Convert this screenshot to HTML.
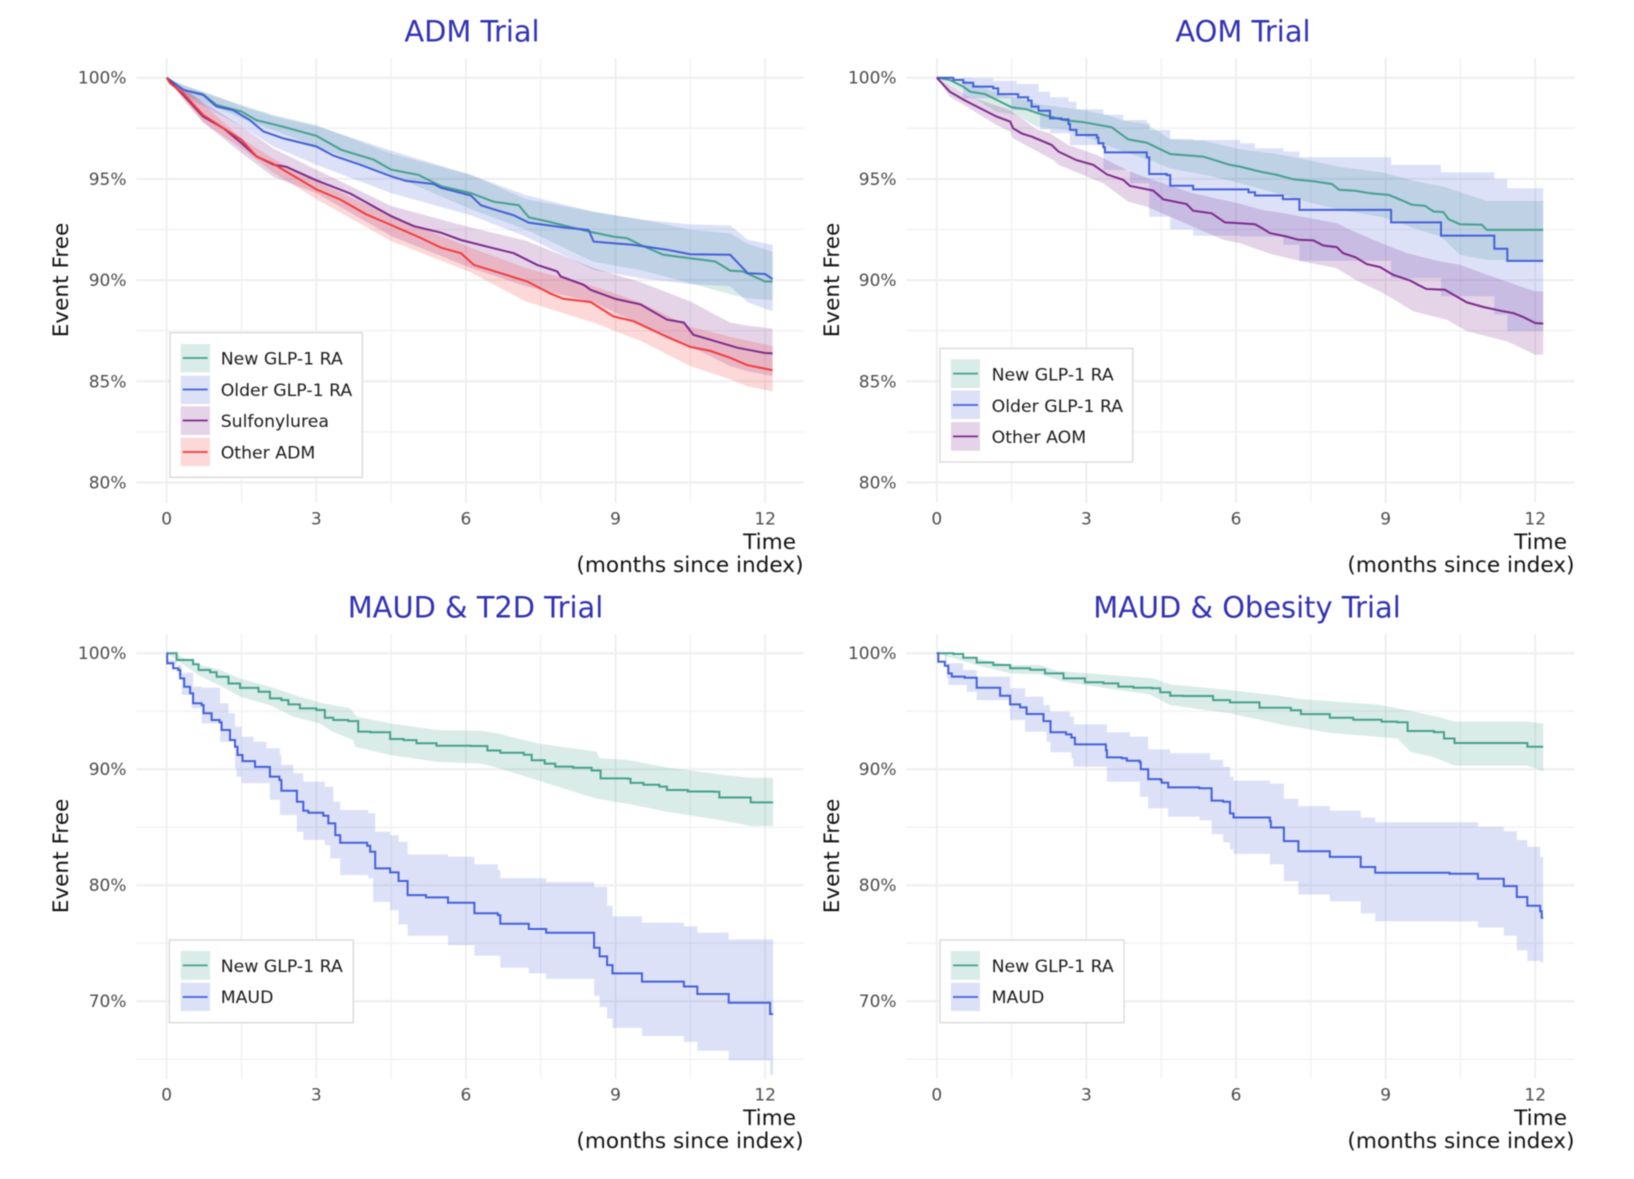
<!DOCTYPE html>
<html lang="en">
<head>
<meta charset="utf-8">
<title>Kaplan-Meier event-free survival by trial</title>
<style>
html,body{margin:0;padding:0;background:#fff;}
svg{display:block;filter:blur(0.6px);font-family:"DejaVu Sans","Liberation Sans",sans-serif;}
.title{font-size:28.9px;fill:#3232b4;text-anchor:middle;}
.axt{font-size:21.6px;fill:#111;}
.leg{font-size:17.3px;fill:#1c1c1c;dominant-baseline:central;transform:translate(-1px,1.8px);}
.lb{fill:#fff;stroke:#dcdcdc;stroke-width:1.5;}
.tick{font-size:17px;fill:#4d4d4d;dominant-baseline:central;}
</style>
</head>
<body>
<svg id="chart" xmlns="http://www.w3.org/2000/svg" width="1634" height="1179" viewBox="0 0 1634 1179">
<rect width="1634" height="1179" fill="#fff"/>
<g id="layer-adm"></g>
<g id="layer-aom"></g>
<g id="layer-t2d"></g>
<g id="layer-obesity"></g>

<text class="title" x="472" y="41.5">ADM Trial</text>
<text class="title" x="1243" y="41.5">AOM Trial</text>
<text class="title" x="475.5" y="617.5">MAUD &amp; T2D Trial</text>
<text class="title" x="1247" y="617.5">MAUD &amp; Obesity Trial</text>

<text class="axt" transform="translate(68,280) rotate(-90)" text-anchor="middle">Event Free</text>
<text class="axt" transform="translate(839,280) rotate(-90)" text-anchor="middle">Event Free</text>
<text class="axt" transform="translate(68,856) rotate(-90)" text-anchor="middle">Event Free</text>
<text class="axt" transform="translate(839,856) rotate(-90)" text-anchor="middle">Event Free</text>

<g class="axt" text-anchor="end">
<text x="796" y="549">Time</text><text x="803.5" y="572">(months since index)</text>
</g>
<g class="axt" text-anchor="end">
<text x="1567" y="549">Time</text><text x="1574.5" y="572">(months since index)</text>
</g>
<g class="axt" text-anchor="end">
<text x="796" y="1125">Time</text><text x="803.5" y="1148">(months since index)</text>
</g>
<g class="axt" text-anchor="end">
<text x="1567" y="1125">Time</text><text x="1574.5" y="1148">(months since index)</text>
</g>

<g>
<rect class="lb" x="170" y="332.7" width="192.3" height="144.6"/>
<g><rect x="180.7" y="344" width="29.3" height="28.3" fill="#45a08d" fill-opacity=".2"/><line x1="182.7" x2="207.7" y1="358" y2="358" stroke="#45a08d" stroke-width="1.8"/><text class="leg" x="221.7" y="357.5">New GLP-1 RA</text></g>
<g><rect x="180.7" y="375.7" width="29.3" height="28.3" fill="#4360d8" fill-opacity=".19"/><line x1="182.7" x2="207.7" y1="389.5" y2="389.5" stroke="#4360d8" stroke-width="1.8"/><text class="leg" x="221.7" y="389">Older GLP-1 RA</text></g>
<g><rect x="180.7" y="406.3" width="29.3" height="28.7" fill="#7d2a8c" fill-opacity=".2"/><line x1="182.7" x2="207.7" y1="420.5" y2="420.5" stroke="#7d2a8c" stroke-width="1.8"/><text class="leg" x="221.7" y="420">Sulfonylurea</text></g>
<g><rect x="180.7" y="437.7" width="29.3" height="28.3" fill="#f43c3c" fill-opacity=".2"/><line x1="182.7" x2="207.7" y1="452" y2="452" stroke="#f43c3c" stroke-width="1.8"/><text class="leg" x="221.7" y="451.5">Other ADM</text></g>
</g>

<g>
<rect class="lb" x="940" y="348.4" width="192.8" height="113.6"/>
<g><rect x="950.9" y="359.3" width="29.1" height="28.7" fill="#45a08d" fill-opacity=".2"/><line x1="953" x2="978" y1="373.6" y2="373.6" stroke="#45a08d" stroke-width="1.8"/><text class="leg" x="992.6" y="373.6">New GLP-1 RA</text></g>
<g><rect x="950.9" y="390.5" width="29.1" height="28.5" fill="#4360d8" fill-opacity=".19"/><line x1="953" x2="978" y1="405" y2="405" stroke="#4360d8" stroke-width="1.8"/><text class="leg" x="992.6" y="405">Older GLP-1 RA</text></g>
<g><rect x="950.9" y="422" width="29.1" height="28.7" fill="#7d2a8c" fill-opacity=".2"/><line x1="953" x2="978" y1="436.4" y2="436.4" stroke="#7d2a8c" stroke-width="1.8"/><text class="leg" x="992.6" y="436.4">Other AOM</text></g>
</g>

<g>
<rect class="lb" x="169.4" y="940" width="183.9" height="82.7"/>
<g><rect x="180.7" y="951" width="29.3" height="28.8" fill="#45a08d" fill-opacity=".2"/><line x1="182.7" x2="207.7" y1="965.4" y2="965.4" stroke="#45a08d" stroke-width="1.8"/><text class="leg" x="221.7" y="965">New GLP-1 RA</text></g>
<g><rect x="180.7" y="982.8" width="29.3" height="28.2" fill="#4360d8" fill-opacity=".19"/><line x1="182.7" x2="207.7" y1="997" y2="997" stroke="#4360d8" stroke-width="1.8"/><text class="leg" x="221.7" y="996">MAUD</text></g>
</g>

<g>
<rect class="lb" x="940" y="940" width="184" height="82.7"/>
<g><rect x="950.9" y="951" width="29.1" height="28.8" fill="#45a08d" fill-opacity=".2"/><line x1="953" x2="978" y1="965.4" y2="965.4" stroke="#45a08d" stroke-width="1.8"/><text class="leg" x="992.6" y="965">New GLP-1 RA</text></g>
<g><rect x="950.9" y="982.8" width="29.1" height="28.2" fill="#4360d8" fill-opacity=".19"/><line x1="953" x2="978" y1="997" y2="997" stroke="#4360d8" stroke-width="1.8"/><text class="leg" x="992.6" y="996">MAUD</text></g>
</g>
</svg>

<script>
// ---------- tick values ----------
const xMajorTicks = [0, 3, 6, 9, 12];
const xMinorTicks = [1.5, 4.5, 7.5, 10.5];
const topYMajorTicks = [100, 95, 90, 85, 80];
const topYMinorTicks = [97.5, 92.5, 87.5, 82.5];
const bottomYMajorTicks = [100, 90, 80, 70];
const bottomYMinorTicks = [95, 85, 75, 65];

// ---------- ADM trial ----------
const admNewTimes = [0,.33,.73,1,1.5,1.8,2.3,3,3.5,4.15,4.5,5.05,5.5,6.1,6.56,7.06,7.26,7.63,8.46,8.96,9.23,9.5,9.96,10.5,11,11.3,11.55,12,12.15];
const admNewSurvival = [100,99.4,99.18,98.65,98.33,97.9,97.6,97.13,96.44,95.95,95.46,95.2,94.64,94.3,93.87,93.7,93.1,92.9,92.4,92.15,92.07,91.74,91.25,91.08,90.92,90.47,90.43,89.93,89.93];
const admOlderTimes = [0,.33,.73,1,1.33,1.67,1.94,2.34,3,3.34,3.88,4.5,4.8,5.35,5.5,6.1,6.3,6.56,6.96,7.26,7.96,8.46,8.56,8.96,9.36,10.03,10.5,11.3,11.65,12,12.15];
const admOlderSurvival = [100,99.4,99.15,98.57,98.4,97.9,97.34,97,96.6,96.15,95.7,95.13,94.9,94.75,94.56,94.18,93.7,93.5,93.2,92.84,92.6,92.48,91.9,91.82,91.74,91.5,91.28,91.25,90.34,90.3,90.05];
const admSulfTimes = [0,.07,.33,.73,1.14,1.5,1.8,2.14,2.4,3,3.68,4.5,4.95,5.5,5.9,6.56,6.96,7.43,7.83,7.9,8.36,8.5,9,9.5,10.03,10.37,10.56,11,11.44,12,12.15];
const admSulfSurvival = [100,99.8,99.15,98.08,97.5,96.77,96.11,95.7,95.6,94.93,94.28,93.16,92.67,92.34,91.98,91.57,91.33,90.75,90.43,90.18,89.77,89.52,89.07,88.8,88.05,87.9,87.3,86.98,86.66,86.4,86.38];
const admOtherTimes = [0,.07,.33,.73,1.14,1.5,1.8,2.14,3,3.48,4,4.5,5.08,5.5,5.9,6.16,6.7,7.23,7.7,7.96,8.5,8.96,9.36,10.03,10.5,10.9,11.3,11.64,12.15];
const admOtherSurvival = [100,99.72,99.23,98.16,97.5,96.93,96.11,95.74,94.48,93.98,93.25,92.72,92.1,91.6,91.33,90.75,90.34,89.93,89.33,89.07,88.92,88.2,87.97,87.2,86.7,86.5,86.16,85.8,85.55];
const admCiTimes = [0,.33,.73,1.5,2.14,3,4.5,6.1,7.2,8.56,9.5,10.5,11.3,11.65,12.15];
const admNewUpper = [100,99.64,99.3,98.66,98.16,97.67,96.25,95.2,94,93.38,93,92.5,92.3,91.8,91.4];
const admNewLower = [100,99.15,98.8,98,97.4,96.6,95.2,93.5,92.5,90.9,90.5,89.85,89.3,89.1,89];
const admOlderUpper = [100,99.64,99.3,98.6,98.1,97.6,96.4,95.2,94.2,93.38,93,92.75,92.7,92,91.74];
const admOlderLower = [100,99.1,98.6,97.6,96.6,95.7,94.3,93.2,92.15,90.5,90.1,89.8,89.7,88.9,88.46];
const admSulfUpper = [100,99.5,98.8,97.6,96.5,95.46,93.66,92.6,91.95,90.6,89.9,88.95,87.9,87.75,87.6];
const admSulfLower = [100,99,97.8,96.28,95.1,94.3,92.18,90.6,89.7,88.9,87.8,86.74,85.75,85.5,85.26];
const admOtherUpper = [100,99.5,98.7,97,96,94.88,93.16,91.6,90.6,89.7,88.9,87.7,87.2,87,86.74];
const admOtherLower = [100,98.9,97.8,96.5,95.3,94,91.93,90.38,88.95,87.9,87,85.75,85.1,84.75,84.5];

// ---------- AOM trial ----------
const aomNewTimes = [0,.26,.53,.67,.97,1.23,1.5,1.8,2.07,2.54,2.94,3.51,3.84,4.21,4.68,5.34,5.88,6.08,6.48,6.82,7.15,7.59,7.92,8.07,8.39,8.69,9.06,9.22,9.53,9.79,9.96,10.16,10.26,10.49,10.93,11.03,12.16];
const aomNewSurvival = [100,99.89,99.56,99.31,99.19,98.87,98.54,98.44,98.21,97.91,97.8,97.55,96.95,96.79,96.23,96.1,95.69,95.61,95.36,95.2,94.98,94.87,94.75,94.46,94.41,94.29,94.21,94.05,93.72,93.67,93.39,93.36,93.01,92.76,92.73,92.48,92.48];
const aomOlderTimes = [0,.33,.53,.73,1.13,1.23,1.63,1.83,1.9,2.04,2.27,2.5,2.64,2.67,2.8,3.21,3.24,3.34,3.37,4.21,4.26,4.61,4.68,5.14,6.25,6.38,6.94,7.27,9.11,10.11,11.18,11.44,12.16];
const aomOlderSurvival = [100,99.89,99.75,99.56,99.47,99.19,99.03,98.87,98.57,98.37,97.99,97.94,97.71,97.42,97.17,97.04,96.76,96.56,96.31,96.07,95.24,95.19,94.66,94.48,94.34,94.18,94,93.47,92.85,92.2,91.55,90.95,90.95];
const aomOtherTimes = [0,.26,.57,1.2,1.47,1.53,1.7,1.9,2.3,2.44,2.8,3.14,3.41,3.74,3.87,4.34,4.54,5.01,5.14,5.51,5.78,6.08,6.38,6.52,6.68,7.02,7.25,7.55,7.75,8.02,8.15,8.39,8.62,8.89,9.15,9.49,9.65,9.82,10.19,10.36,10.63,10.96,11.3,11.56,11.76,12,12.16];
const aomOtherSurvival = [100,99.31,98.87,98.08,97.83,97.5,97.25,97.09,96.68,96.35,95.93,95.69,95.22,94.95,94.66,94.42,93.99,93.76,93.43,93.3,92.85,92.81,92.76,92.57,92.32,92.15,91.99,91.96,91.71,91.63,91.33,91.13,90.79,90.64,90.26,89.98,89.77,89.56,89.52,89.28,88.9,88.67,88.49,88.37,88.17,87.88,87.85];
const aomNewUpperTimes = [0,.53,1.23,2.07,2.94,3.41,3.74,4.21,4.68,5.34,6.08,6.82,7.27,8.05,8.95,9.62,10.16,11.03,12.16];
const aomNewUpper = [100,99.89,99.23,98.68,98.4,98.16,97.87,97.71,96.95,96.89,96.46,96.23,96.02,95.61,95.31,94.87,94.62,93.91,93.91];
const aomNewLowerTimes = [0,.53,1.2,1.6,2,2.64,3.74,4.27,4.68,5.55,6.08,6.82,7.27,8.08,8.95,9.56,10.11,10.49,11.03,12.16];
const aomNewLower = [100,99.31,98.32,98.16,97.58,97.42,96.35,95.93,95.52,95.11,94.79,94.29,93.96,93.47,93.11,92.57,92.15,91.25,91,90.97];
const aomOlderUpperTimes = [0,.73,1.13,1.6,2.04,2.27,2.64,2.8,3.34,3.74,4.21,4.27,4.68,5.14,6.08,6.38,6.95,7.27,9.11,10.11,11.18,11.44,12.16];
const aomOlderUpper = [100,99.97,99.84,99.69,99.31,99.03,98.82,98.44,98.16,97.91,97.78,97.41,96.97,96.92,96.76,96.51,96.35,96.07,95.69,95.33,94.98,94.54,94.54];
const aomOlderLowerTimes = [0,.53,1.5,2.07,2.27,2.67,3.34,3.87,4.26,4.68,5.14,6.08,6.95,7.27,9.11,10.11,11.18,11.44,12.16];
const aomOlderLower = [100,98.98,98.4,97.45,97.25,96.67,95.44,94.78,93.13,92.5,92.19,92.15,91.74,90.95,90.1,89.2,88.3,87.47,87.47];
const aomOtherUpperTimes = [0,.26,.67,1.47,2,2.27,2.64,3.21,3.81,4.24,5.14,6.08,6.52,6.95,8.02,8.36,9,9.43,10.1,10.49,11.03,12,12.16];
const aomOtherUpper = [100,99.64,99.06,98.4,97.45,97.25,96.67,96.18,95.44,95.03,94.29,93.77,93.47,93.31,92.81,92.4,91.74,91.33,90.92,90.76,90.26,89.44,89.44];
const aomOtherLowerTimes = [0,.26,.6,1.2,1.47,1.53,2.34,2.44,3.34,3.84,4.21,4.68,5.75,6.08,6.68,7.27,8.02,8.39,8.95,9.56,10.23,10.63,11.43,12,12.16];
const aomOtherLower = [100,99.06,98.57,97.66,97.33,97,95.93,95.69,94.78,93.87,93.63,93.13,91.98,91.83,91.3,90.95,90.59,90.02,89.36,88.45,88.04,87.47,86.97,86.32,86.32];

// ---------- MAUD & T2D trial ----------
const t2dNewTimes = [0,.2,.53,.64,.87,1,1.24,1.47,1.84,2.07,2.3,2.44,2.67,3,3.17,3.34,3.64,3.84,4.08,4.48,4.75,5.01,5.41,6.11,6.43,6.69,7.16,7.32,7.58,7.79,8.15,8.52,8.7,9.25,9.3,9.56,9.88,10.03,10.45,10.97,11.08,11.71,12.16];
const t2dNewSurvival = [100,99.41,99.04,98.55,98.35,97.97,97.39,97.01,96.67,96.1,95.96,95.59,95.24,95.1,94.44,94.24,94.15,93.24,93.18,92.6,92.51,92.23,92.03,92,91.61,91.42,91.25,90.77,90.48,90.22,90.12,89.89,89.21,89.18,88.82,88.66,88.5,88.21,88.08,88.05,87.56,87.14,87.14];
const t2dNewUpperTimes = [0,.2,.64,1.07,1.47,2.07,2.67,3.14,3.68,3.81,4.48,5.41,6.32,6.59,7.42,8.62,8.68,9.25,10.03,11.08,11.71,12.16];
const t2dNewUpper = [100,99.85,99.04,98.55,97.83,97.11,96.25,95.67,95.25,94.53,93.95,93.38,93.3,93.13,92.23,91.51,90.96,90.8,90.15,89.57,89.25,89.25];
const t2dNewLowerTimes = [0,.64,1.24,1.47,2.07,2.54,3.07,3.34,3.74,3.78,4.48,5.41,6.32,6.69,7.53,8.62,9.3,10.03,11.08,11.71,12.16];
const t2dNewLower = [100,98.12,96.83,96.25,95.53,94.53,93.95,93.18,92.52,91.94,91.22,90.65,90.48,90.05,88.92,87.46,86.98,86.33,85.62,85.1,85.1];
const t2dMaudTimes = [0,.01,.13,.23,.27,.35,.47,.53,.7,.74,.9,1.06,1.1,1.27,1.37,1.42,1.52,1.77,2.07,2.26,2.3,2.61,2.74,2.84,3.14,3.24,3.38,3.48,4.02,4.08,4.18,4.48,4.65,4.83,5.2,5.64,6.17,6.64,6.69,7.26,7.61,8.57,8.68,8.83,8.94,9.53,10.37,10.64,11.27,12.1,12.16];
const t2dMaudSurvival = [100,99.13,98.7,98.55,97.83,97.1,96.54,95.68,95.53,94.82,94.24,94.04,93.38,92.52,91.94,91.22,90.7,90.2,89.36,89.07,88.15,87.2,86.42,86.25,85.99,85.33,84.32,83.66,83.4,82.89,81.45,81.1,80.36,79.15,78.95,78.49,77.58,77.42,76.68,76.22,75.9,74.6,73.86,73.11,72.4,71.69,71.27,70.62,69.87,68.9,68.9];
const t2dMaudUpperTimes = [0,.03,.2,.3,.53,.7,1.07,1.24,1.37,1.5,1.74,2,2.27,2.3,2.54,2.74,3.17,3.34,3.48,4.04,4.18,4.48,4.65,4.83,5.64,6.17,6.64,6.69,7.61,8.57,8.83,8.94,9.53,10.37,10.64,11.27,12.1,12.16];
const t2dMaudUpper = [100,99.4,99,98.3,97.12,97.03,95.68,94.82,93.67,92.8,92.37,91.8,91.23,90.37,89.64,88.93,88.5,87.2,86.48,86.2,84.6,84.3,83.73,82.65,82.45,81.8,81.31,80.6,80.27,79.85,78.23,77.32,76.77,76.45,75.9,75.32,75.32,74.67];
const t2dMaudLowerTimes = [0,.01,.23,.3,.5,.7,1.07,1.37,1.4,1.5,2.07,2.27,2.61,2.74,3.17,3.28,3.48,4.04,4.14,4.48,4.65,4.83,5.64,6.17,6.69,7.26,7.61,8.57,8.68,8.83,8.94,9.53,10.37,10.64,11.27,12.1,12.16];
const t2dMaudLower = [100,99,98.1,96.4,95.25,93.95,92.37,90.07,89.36,88.8,87.35,86.05,84.6,83.9,83.46,82.3,80.88,80.6,78.56,77.85,76.61,75.64,74.83,73.92,72.89,72.4,71.92,70.46,69.49,68.51,67.7,67,66.5,65.73,64.9,63.65,63.65];

// ---------- MAUD & Obesity trial ----------
const obNewTimes = [0,.33,.53,.8,1.13,1.47,1.87,2.17,2.54,2.97,3.34,3.64,3.94,4.31,4.48,4.68,4.94,5.54,5.88,6.47,7.1,7.3,7.88,8.35,8.92,9.23,9.44,9.97,10.17,10.38,11.84,12.16];
const obNewSurvival = [100,99.93,99.6,99.2,98.98,98.7,98.58,98.26,97.83,97.49,97.4,97.12,97.03,96.97,96.63,96.34,96.31,95.96,95.76,95.3,95.08,94.75,94.43,94.27,94.1,94.04,93.29,93.2,92.65,92.26,91.93,91.93];
const obNewUpperTimes = [0,.8,1.47,2.07,2.44,3.48,4.34,4.68,5.88,6.78,7.3,8.87,9.44,10.12,10.38,11.84,12.16];
const obNewUpper = [100,99.55,98.98,98.98,98.46,98.12,97.83,97.31,96.82,96.37,96.05,95.56,95.08,94.43,94.1,94.1,93.94];
const obNewLowerTimes = [0,.8,1.47,2.07,2.54,3.4,4.27,4.68,5.88,6.99,7.88,9.24,9.5,9.97,10.38,11.84,12.16];
const obNewLower = [100,98.98,98.26,98.18,97.55,96.97,96.45,95.53,94.81,93.78,93.13,92.65,91.51,91.03,90.31,90.31,89.83];
const obMaudTimes = [0,.03,.16,.23,.3,.56,.8,1.27,1.47,1.67,1.8,2.14,2.28,2.59,2.7,2.77,3.39,3.41,3.71,3.81,4.07,4.09,4.24,4.49,4.51,4.64,5.26,5.51,5.74,5.88,5.95,6.68,6.7,6.96,7.25,7.88,8.5,8.79,10.28,10.85,11.37,11.63,11.84,12.1,12.13,12.16];
const obMaudSurvival = [100,99.27,98.92,98.26,97.98,97.89,97.03,96.34,95.59,95.33,94.76,94.15,93.18,93,92.72,92.14,91.63,91.02,90.94,90.73,90.59,89.99,89.15,89.07,88.83,88.43,88.35,87.29,87.2,86.19,85.84,85.52,84.97,83.8,82.93,82.44,81.57,81.08,80.98,80.56,79.92,78.98,78.23,77.75,77.2,77.2];
const obMaudUpperTimes = [0,.16,.53,.8,1.47,1.77,2.14,2.27,2.67,2.75,3.41,3.87,4.24,4.68,5.48,5.74,5.88,5.95,6.68,6.96,7.25,7.88,8.5,8.79,10.85,11.37,11.63,11.84,12.1,12.16];
const obMaudUpper = [100,99.13,98.55,97.98,96.97,96.25,95.53,94.96,94.53,93.87,93.18,92.8,91.71,91.37,90.8,90.22,89.36,89.02,88.76,87.46,86.82,86.43,85.84,85.42,85.03,84.65,83.9,83.32,82.44,82.1];
const obMaudLowerTimes = [0,.2,.23,.6,.8,1.47,1.77,2.2,2.28,2.7,2.74,3.41,4.07,4.24,4.64,5.27,5.51,5.74,5.88,5.95,6.68,6.96,7.25,7.88,8.5,8.79,10.28,10.85,11.37,11.63,11.84,12.1,12.16];
const obMaudLower = [100,97.83,97.26,96.68,95.96,94.24,93.23,92.37,91.46,90.94,90.22,88.93,87.63,86.62,85.9,85.6,84.39,83.7,83.1,82.7,81.8,80.34,79.2,78.6,77.57,76.9,76.87,76.35,75.64,74.4,73.47,73.37,72.24];

// ---------- scales ----------
const NS = 'http://www.w3.org/2000/svg';
const monthPx = 49.87;
function xAxis(panel, month) { return panel.x0 + month * monthPx; }
function yAxis(panel, pct) { return panel.y100 + (100 - pct) * panel.pctPx; }

function tracePoints(panel, times, values, shape) {
  const pts = [];
  times.forEach(function (t, i) {
    const px = xAxis(panel, t);
    const py = yAxis(panel, values[i]);
    if (shape === 'step' && i > 0) pts.push([px, yAxis(panel, values[i - 1])]);
    pts.push([px, py]);
  });
  return pts;
}
function toPath(pts) {
  return pts.map(function (p, i) { return (i ? 'L' : 'M') + p[0].toFixed(1) + ' ' + p[1].toFixed(1); }).join('');
}
function drawRibbon(layer, panel, s) {
  const up = tracePoints(panel, s.upT, s.up, s.ciShape);
  const low = tracePoints(panel, s.lowT, s.low, s.ciShape).reverse();
  const el = document.createElementNS(NS, 'path');
  
  
  el.setAttribute('d', toPath(up.concat(low)) + 'Z');
  el.setAttribute('fill', s.color);
  el.setAttribute('fill-opacity', s.color === BLUE ? '0.19' : '0.2');
  layer.appendChild(el);
}
function drawLine(layer, panel, s) {
  const el = document.createElementNS(NS, 'path');
  
  
  el.setAttribute('d', toPath(tracePoints(panel, s.t, s.v, s.shape)));
  el.setAttribute('fill', 'none');
  el.setAttribute('stroke', s.color);
  el.setAttribute('stroke-width', '2');
  layer.appendChild(el);
}
function drawAxes(layer, panel) {
  panel.yMinor.forEach(function (v) {
    const el = document.createElementNS(NS, 'line');
    
    
    el.setAttribute('x1', panel.left); el.setAttribute('x2', panel.right);
    el.setAttribute('y1', yAxis(panel, v)); el.setAttribute('y2', yAxis(panel, v));
    el.setAttribute('stroke', '#f1f1f1'); el.setAttribute('stroke-width', '1.3');
    layer.appendChild(el);
  });
  xMinorTicks.forEach(function (v) {
    const el = document.createElementNS(NS, 'line');
    
    
    el.setAttribute('x1', xAxis(panel, v)); el.setAttribute('x2', xAxis(panel, v));
    el.setAttribute('y1', panel.top); el.setAttribute('y2', panel.bottom);
    el.setAttribute('stroke', '#f1f1f1'); el.setAttribute('stroke-width', '1.3');
    layer.appendChild(el);
  });
  panel.yMajor.forEach(function (v) {
    const el = document.createElementNS(NS, 'line');
    
    
    el.setAttribute('x1', panel.left); el.setAttribute('x2', panel.right);
    el.setAttribute('y1', yAxis(panel, v)); el.setAttribute('y2', yAxis(panel, v));
    el.setAttribute('stroke', '#eeeeee'); el.setAttribute('stroke-width', '2');
    layer.appendChild(el);
    const tx = document.createElementNS(NS, 'text');
    
    
    tx.setAttribute('class', 'tick');
    tx.setAttribute('text-anchor', 'end');
    tx.setAttribute('x', panel.left - 10);
    tx.setAttribute('y', yAxis(panel, v) + 1);
    tx.textContent = v + '%';
    layer.appendChild(tx);
  });
  xMajorTicks.forEach(function (v) {
    const el = document.createElementNS(NS, 'line');
    
    
    el.setAttribute('x1', xAxis(panel, v)); el.setAttribute('x2', xAxis(panel, v));
    el.setAttribute('y1', panel.top); el.setAttribute('y2', panel.bottom);
    el.setAttribute('stroke', '#eeeeee'); el.setAttribute('stroke-width', '1.8');
    layer.appendChild(el);
    const tx = document.createElementNS(NS, 'text');
    
    
    tx.setAttribute('class', 'tick');
    tx.setAttribute('text-anchor', 'middle');
    tx.setAttribute('x', xAxis(panel, v));
    tx.setAttribute('y', panel.bottom + 16.5);
    tx.textContent = v;
    layer.appendChild(tx);
  });
}

const TEAL = '#45a08d', BLUE = '#4360d8', PURPLE = '#7d2a8c', RED = '#f43c3c';
const panels = [
  { id: 'layer-adm', x0: 166.7, y100: 77.7, pctPx: 20.24, left: 136.5, right: 803.5, top: 58, bottom: 503, yMajor: topYMajorTicks, yMinor: topYMinorTicks,
    series: [
      { color: TEAL, t: admNewTimes, v: admNewSurvival, shape: 'linear', ciShape: 'linear', upT: admCiTimes, up: admNewUpper, lowT: admCiTimes, low: admNewLower },
      { color: BLUE, t: admOlderTimes, v: admOlderSurvival, shape: 'linear', ciShape: 'linear', upT: admCiTimes, up: admOlderUpper, lowT: admCiTimes, low: admOlderLower },
      { color: PURPLE, t: admSulfTimes, v: admSulfSurvival, shape: 'linear', ciShape: 'linear', upT: admCiTimes, up: admSulfUpper, lowT: admCiTimes, low: admSulfLower },
      { color: RED, t: admOtherTimes, v: admOtherSurvival, shape: 'linear', ciShape: 'linear', upT: admCiTimes, up: admOtherUpper, lowT: admCiTimes, low: admOtherLower }
    ] },
  { id: 'layer-aom', x0: 936.8, y100: 77.7, pctPx: 20.24, left: 906.6, right: 1574.5, top: 58, bottom: 503, yMajor: topYMajorTicks, yMinor: topYMinorTicks,
    series: [
      { color: TEAL, t: aomNewTimes, v: aomNewSurvival, shape: 'linear', ciShape: 'linear', upT: aomNewUpperTimes, up: aomNewUpper, lowT: aomNewLowerTimes, low: aomNewLower },
      { color: BLUE, t: aomOlderTimes, v: aomOlderSurvival, shape: 'step', ciShape: 'step', upT: aomOlderUpperTimes, up: aomOlderUpper, lowT: aomOlderLowerTimes, low: aomOlderLower },
      { color: PURPLE, t: aomOtherTimes, v: aomOtherSurvival, shape: 'linear', ciShape: 'linear', upT: aomOtherUpperTimes, up: aomOtherUpper, lowT: aomOtherLowerTimes, low: aomOtherLower }
    ] },
  { id: 'layer-t2d', x0: 166.7, y100: 653.2, pctPx: 11.6, left: 136.5, right: 803.5, top: 634, bottom: 1079, yMajor: bottomYMajorTicks, yMinor: bottomYMinorTicks,
    series: [
      { color: TEAL, t: t2dNewTimes, v: t2dNewSurvival, shape: 'step', ciShape: 'linear', upT: t2dNewUpperTimes, up: t2dNewUpper, lowT: t2dNewLowerTimes, low: t2dNewLower },
      { color: BLUE, t: t2dMaudTimes, v: t2dMaudSurvival, shape: 'step', ciShape: 'step', upT: t2dMaudUpperTimes, up: t2dMaudUpper, lowT: t2dMaudLowerTimes, low: t2dMaudLower }
    ] },
  { id: 'layer-obesity', x0: 936.8, y100: 653.2, pctPx: 11.6, left: 906.6, right: 1574.5, top: 634, bottom: 1079, yMajor: bottomYMajorTicks, yMinor: bottomYMinorTicks,
    series: [
      { color: TEAL, t: obNewTimes, v: obNewSurvival, shape: 'step', ciShape: 'linear', upT: obNewUpperTimes, up: obNewUpper, lowT: obNewLowerTimes, low: obNewLower },
      { color: BLUE, t: obMaudTimes, v: obMaudSurvival, shape: 'step', ciShape: 'step', upT: obMaudUpperTimes, up: obMaudUpper, lowT: obMaudLowerTimes, low: obMaudLower }
    ] }
];

panels.forEach(function (panel) {
  const layer = document.getElementById(panel.id);
  drawAxes(layer, panel);
  panel.series.forEach(function (s) { drawRibbon(layer, panel, s); });
  panel.series.forEach(function (s) { drawLine(layer, panel, s); });
});
</script>
</body>
</html>
